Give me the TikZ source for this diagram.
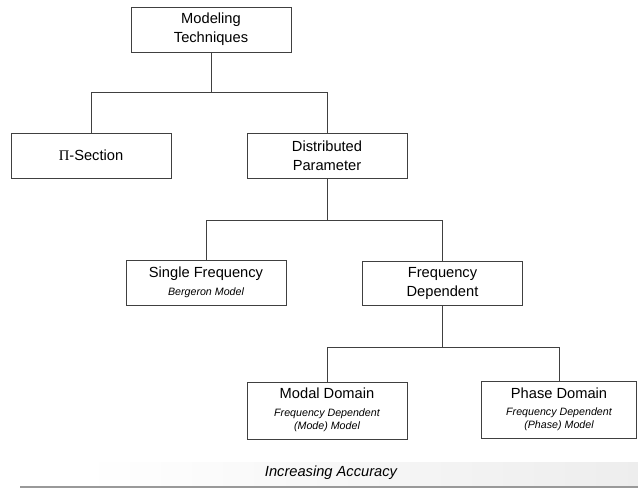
\documentclass[tikz,border=0pt]{standalone}
\usepackage{fontspec}
\setmainfont{Liberation Sans}
\newfontfamily\pifont{Liberation Serif}
\usetikzlibrary{calc}
\newcommand\subtxt[1]{{\fontsize{8}{9.75}\selectfont\itshape
  \begin{tabular}[t]{@{}c@{}}#1\end{tabular}}}

\begin{document}
\begin{tikzpicture}[x=0.75pt,y=-0.75pt,baseline=(current bounding box.center),
  box/.style={draw=black!75,line width=0.75pt,inner sep=0pt,align=center,
    font=\fontsize{11}{14}\selectfont,minimum width=120pt,minimum height=33.75pt},
  link/.style={draw=black!75,line width=0.75pt}]
  \useasboundingbox (0,0) rectangle (638,490);
  % boxes
  \node[box] (tech) at (211,29.5) {Modeling\\Techniques};
  \node[box] (pisec) at (91,155.5) {{\pifont Π}-Section};
  \node[box] (dist) at (327,156) {Distributed\\Parameter};
  \node[box] (single) at (206,283) {Single Frequency\\[-1pt]\subtxt{Bergeron Model}};
  \node[box,minimum height=32.5pt] (freq) at (442.5,283.5) {Frequency\\Dependent};
  \node[box,minimum height=42.75pt] (modal) at (327,410.5)
    {Modal Domain\\[-1pt]\subtxt{Frequency Dependent\\(Mode) Model}};
  \node[box,minimum width=116pt,minimum height=42.75pt] (phase) at (559,410)
    {Phase Domain\\[-1pt]\subtxt{Frequency Dependent\\(Phase) Model}};
  % bus lines
  \coordinate (j1) at (211,92);
  \coordinate (j2) at (327,220);
  \coordinate (j3) at (442.5,347);
  \draw[link] (tech.south) -- (j1);
  \draw[link] (pisec.north) -- (pisec.north |- j1) -- (dist.north |- j1) -- (dist.north);
  \draw[link] (dist.south) -- (j2);
  \draw[link] (single.north) -- (single.north |- j2) -- (freq.north |- j2) -- (freq.north);
  \draw[link] (freq.south) -- (j3);
  \draw[link] (modal.north) -- (modal.north |- j3) -- (phase.north |- j3) -- (phase.north);
  % accuracy bar
  \shade[left color=white,right color=black!7] (83,462) rectangle (638,486);
  \draw[black!40,line width=1.5pt] (20,487) -- (638,487);
  \node[font=\fontsize{11}{13}\selectfont\itshape] (acc) at (331,473) {Increasing Accuracy};
\end{tikzpicture}
\end{document}
